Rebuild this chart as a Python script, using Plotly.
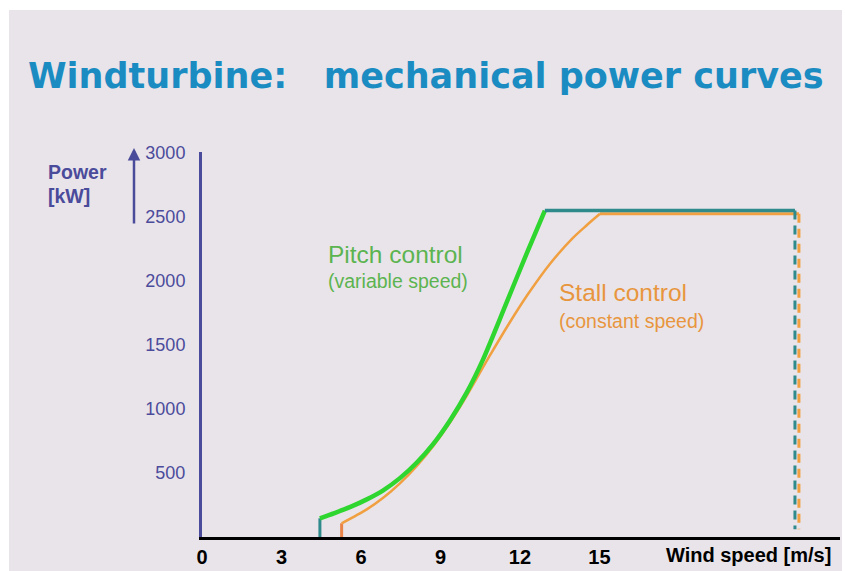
import plotly.graph_objects as go

# Canvas and plot-area geometry (pixels)
W, H = 845, 571
L, R, T, B = 202, 5, 152, 34
PW, PH = W - L - R, H - T - B
X_MAX = 24.08   # m/s shown across the plot width
Y_MAX = 3008    # kW shown across the plot height

# Wind speed ticks and power ticks
x_ticks = [0, 3, 6, 9, 12, 15]
y_ticks = [500, 1000, 1500, 2000, 2500, 3000]

# Pitch-controlled (variable speed) turbine
pitch_ws = [4.45, 5.0, 5.58, 6.22, 6.84, 7.47, 8.10, 8.73, 9.36, 9.99, 10.6, 11.51, 12.30, 12.94]
pitch_kw = [146, 187, 233, 294, 365, 460, 580, 728, 911, 1128, 1384, 1839, 2238, 2550]
pitch_cut_in = 4.45
pitch_rated_ws = 12.94
pitch_rated_kw = 2550
pitch_cut_out = 22.38

# Stall-controlled (constant speed) turbine
stall_ws = [5.27, 6.22, 6.84, 7.47, 8.10, 8.73, 9.36, 9.99, 10.8, 11.62, 12.30, 13.13, 14.0, 14.5, 15.02]
stall_kw = [107, 216, 306, 419, 554, 712, 895, 1103, 1395, 1678, 1896, 2133, 2337, 2432, 2525]
stall_cut_in = 5.27
stall_rated_ws = 15.02
stall_rated_kw = 2525
stall_cut_out = 22.53

GREEN = "#2fd62f"
TEAL = "#2f8a8c"
ORANGE = "#f0a040"
ORANGE_DARK = "#e8844a"
NAVY = "#4b4b9b"
BG = "#e9e4ea"


def fx(px):
    return (px - L) / PW


def fy(py):
    return (H - B - py) / PH


fig = go.Figure()

# Stall curve (drawn first so the pitch curve sits on top)
fig.add_trace(go.Scatter(x=[stall_cut_in, stall_cut_in], y=[0, stall_kw[0]], mode="lines",
                         line=dict(color=ORANGE_DARK, width=3)))
fig.add_trace(go.Scatter(x=stall_ws, y=stall_kw, mode="lines",
                         line=dict(color=ORANGE, width=2.5, shape="spline", smoothing=0.8)))
fig.add_trace(go.Scatter(x=[stall_rated_ws, stall_cut_out], y=[stall_rated_kw, stall_rated_kw], mode="lines",
                         line=dict(color=ORANGE, width=3)))
fig.add_trace(go.Scatter(x=[stall_cut_out, stall_cut_out], y=[stall_rated_kw, 60], mode="lines",
                         line=dict(color=ORANGE, width=3, dash="9px,6px")))

# Pitch curve
fig.add_trace(go.Scatter(x=[pitch_cut_in, pitch_cut_in], y=[0, pitch_kw[0]], mode="lines",
                         line=dict(color=TEAL, width=3)))
fig.add_trace(go.Scatter(x=pitch_ws, y=pitch_kw, mode="lines",
                         line=dict(color=GREEN, width=4.5, shape="spline", smoothing=0.8)))
fig.add_trace(go.Scatter(x=[pitch_rated_ws, pitch_cut_out], y=[pitch_rated_kw, pitch_rated_kw], mode="lines",
                         line=dict(color=TEAL, width=3.5)))
fig.add_trace(go.Scatter(x=[pitch_cut_out, pitch_cut_out], y=[pitch_rated_kw, 60], mode="lines",
                         line=dict(color=TEAL, width=3, dash="9px,6px")))

label_font = "Liberation Sans, Arial, sans-serif"
narrow_font = "Liberation Sans Narrow, Arial Narrow, Liberation Sans, sans-serif"

annotations = [
    dict(text="Pitch control", x=fx(326), y=fy(254), xanchor="left", yanchor="middle",
         font=dict(family=label_font, size=24.5, color="#5cb450")),
    dict(text="(variable speed)", x=fx(326), y=fy(281), xanchor="left", yanchor="middle",
         font=dict(family=label_font, size=19.5, color="#5cb450")),
    dict(text="Stall control", x=fx(557), y=fy(292), xanchor="left", yanchor="middle",
         font=dict(family=label_font, size=24.5, color="#e8963e")),
    dict(text="(constant speed)", x=fx(557), y=fy(321), xanchor="left", yanchor="middle",
         font=dict(family=label_font, size=19.5, color="#e8963e")),
    dict(text="Power", x=fx(46), y=fy(172), xanchor="left", yanchor="middle",
         font=dict(family=label_font, size=19.5, color=NAVY, weight="bold")),
    dict(text="[kW]", x=fx(46), y=fy(196), xanchor="left", yanchor="middle",
         font=dict(family=label_font, size=19.5, color=NAVY, weight="bold")),
    dict(text="Wind speed [m/s]", x=fx(833), y=fy(555), xanchor="right", yanchor="middle",
         font=dict(family=narrow_font, size=20, color="black", weight="bold")),
    # upward arrow beside the power label
    dict(text="", x=fx(134), y=fy(148), ax=0, ay=77, showarrow=True,
         arrowhead=2, arrowsize=1, arrowwidth=2.5, arrowcolor=NAVY),
]
for a in annotations:
    a.setdefault("showarrow", False)
    a["xref"] = "paper"
    a["yref"] = "paper"

fig.update_layout(
    width=W, height=H,
    margin=dict(l=L, r=R, t=T, b=B, pad=0, autoexpand=False),
    paper_bgcolor="white",
    plot_bgcolor="rgba(0,0,0,0)",
    showlegend=False,
    hovermode=False,
    title=dict(text="Windturbine:\u00a0\u00a0\u00a0mechanical power curves",
               x=28 / W, xanchor="left", xref="container",
               y=1 - 76 / H, yanchor="middle", yref="container", automargin=False,
               font=dict(family="DejaVu Sans, sans-serif", size=35, color="#1b8cc2", weight="bold")),
    xaxis=dict(range=[0, X_MAX], tickvals=x_ticks, showgrid=False, zeroline=False, automargin=False,
               showline=True, linecolor="black", linewidth=3, ticks="",
               tickfont=dict(family=narrow_font, size=20, color="black", weight="bold")),
    yaxis=dict(range=[0, Y_MAX], tickvals=y_ticks, showgrid=False, zeroline=False, automargin=False,
               showline=True, linecolor=NAVY, linewidth=3,
               ticks="outside", ticklen=10, tickcolor="rgba(0,0,0,0)",
               tickfont=dict(family=label_font, size=18, color=NAVY)),
    annotations=annotations,
    shapes=[dict(type="rect", xref="paper", yref="paper", layer="below",
                 x0=fx(9), x1=fx(842), y0=fy(10), y1=fy(H + 5),
                 fillcolor=BG, line=dict(width=0))],
)

fig.write_html("out.html")
